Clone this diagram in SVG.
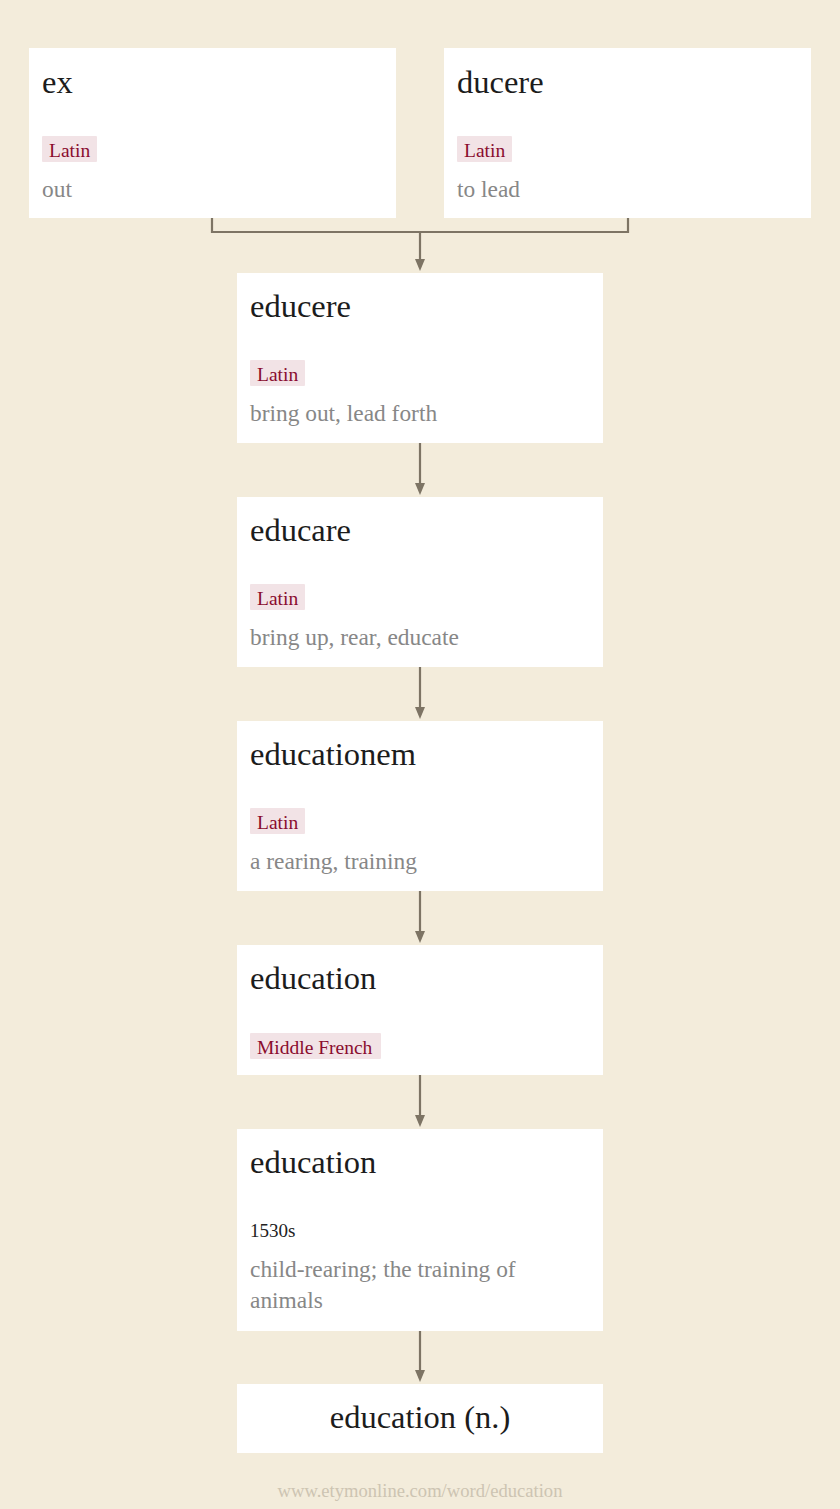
<svg xmlns="http://www.w3.org/2000/svg" width="840" height="1509" viewBox="0 0 840 1509">
<defs>
<style>
.bg{fill:#f3ecdb}
.node{fill:#ffffff}
.title{font-family:"Liberation Serif","Times New Roman",serif;font-size:32.5px;fill:#1c1c1c}
.tag{fill:#f2e3e6}
.tagt{font-family:"Liberation Serif","Times New Roman",serif;font-size:19.5px;fill:#8a0c2e}
.gloss{font-family:"Liberation Serif","Times New Roman",serif;font-size:23.4px;fill:#878787}
.date{font-family:"Liberation Serif","Times New Roman",serif;font-size:19px;fill:#222222}
.foot{font-family:"Liberation Serif","Times New Roman",serif;font-size:18.6px;fill:#cdc4b2}
.conn{fill:none;stroke:#7d7464;stroke-width:2.2}
.head{fill:#7d7464}
</style>
</defs>
<rect class="bg" x="0" y="0" width="840" height="1509"/>

<g id="connectors">
<path class="conn" d="M212,218 V232 H628 V218"/>
<path class="conn" d="M420,232 V260"/>
<polygon class="head" points="415,259 425,259 420,271"/>
<path class="conn" d="M420,443 V484"/>
<polygon class="head" points="415,483 425,483 420,495"/>
<path class="conn" d="M420,667 V708"/>
<polygon class="head" points="415,707 425,707 420,719"/>
<path class="conn" d="M420,891 V932"/>
<polygon class="head" points="415,931 425,931 420,943"/>
<path class="conn" d="M420,1075 V1116"/>
<polygon class="head" points="415,1115 425,1115 420,1127"/>
<path class="conn" d="M420,1331 V1371"/>
<polygon class="head" points="415,1370 425,1370 420,1382"/>
</g>

<g id="node-ex">
<rect class="node" x="29" y="48" width="367" height="170"/>
<text class="title" x="42" y="93">ex</text>
<rect class="tag" x="42" y="136" width="55" height="26" rx="1"/>
<text class="tagt" x="49" y="157">Latin</text>
<text class="gloss" x="42" y="197">out</text>
</g>

<g id="node-ducere">
<rect class="node" x="444" y="48" width="367" height="170"/>
<text class="title" x="457" y="93">ducere</text>
<rect class="tag" x="457" y="136" width="55" height="26" rx="1"/>
<text class="tagt" x="464" y="157">Latin</text>
<text class="gloss" x="457" y="197">to lead</text>
</g>

<g id="node-educere">
<rect class="node" x="237" y="273" width="366" height="170"/>
<text class="title" x="250" y="317">educere</text>
<rect class="tag" x="250" y="360" width="55" height="26" rx="1"/>
<text class="tagt" x="257" y="381">Latin</text>
<text class="gloss" x="250" y="421">bring out, lead forth</text>
</g>

<g id="node-educare">
<rect class="node" x="237" y="497" width="366" height="170"/>
<text class="title" x="250" y="541">educare</text>
<rect class="tag" x="250" y="584" width="55" height="26" rx="1"/>
<text class="tagt" x="257" y="605">Latin</text>
<text class="gloss" x="250" y="645">bring up, rear, educate</text>
</g>

<g id="node-educationem">
<rect class="node" x="237" y="721" width="366" height="170"/>
<text class="title" x="250" y="765">educationem</text>
<rect class="tag" x="250" y="808" width="55" height="26" rx="1"/>
<text class="tagt" x="257" y="829">Latin</text>
<text class="gloss" x="250" y="869">a rearing, training</text>
</g>

<g id="node-education-mf">
<rect class="node" x="237" y="945" width="366" height="130"/>
<text class="title" x="250" y="989">education</text>
<rect class="tag" x="250" y="1033" width="131" height="26" rx="1"/>
<text class="tagt" x="257" y="1054">Middle French</text>
</g>

<g id="node-education-1530s">
<rect class="node" x="237" y="1129" width="366" height="202"/>
<text class="title" x="250" y="1173">education</text>
<text class="date" x="250" y="1237">1530s</text>
<text class="gloss" x="250" y="1277">child-rearing; the training of</text>
<text class="gloss" x="250" y="1308">animals</text>
</g>

<g id="node-education-n">
<rect class="node" x="237" y="1384" width="366" height="69"/>
<text class="title" x="420" y="1428" text-anchor="middle">education (n.)</text>
</g>

<text class="foot" x="420" y="1497" text-anchor="middle">www.etymonline.com/word/education</text>
</svg>
